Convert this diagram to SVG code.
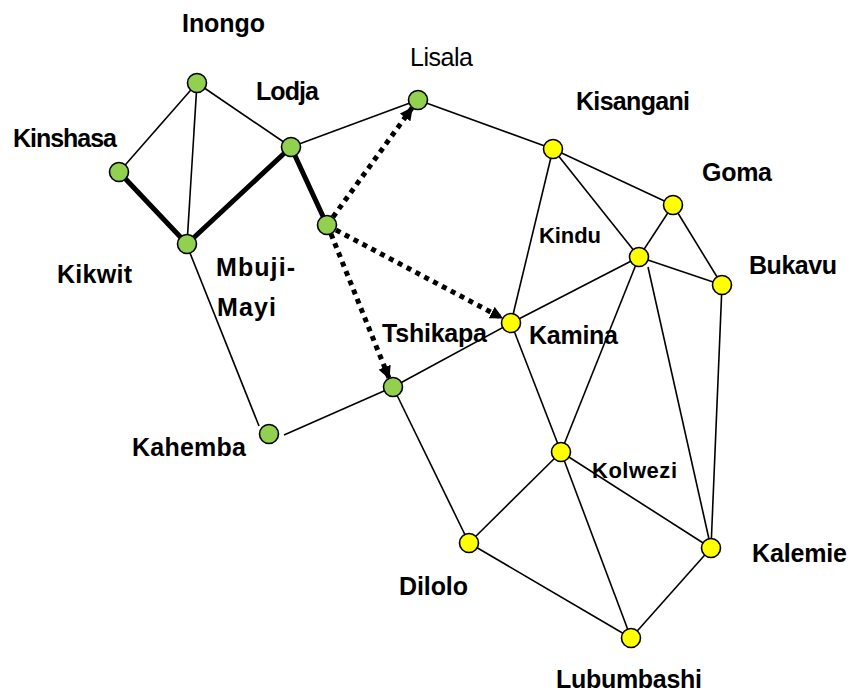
<svg xmlns="http://www.w3.org/2000/svg" width="850" height="696" viewBox="0 0 850 696">
<style>
.e{stroke:#000;stroke-width:1.6;fill:none}
.t{stroke:#000;stroke-width:5;fill:none;stroke-linecap:round}
.d{stroke:#000;stroke-width:5;fill:none;stroke-dasharray:5 5}
.g{fill:#92D050;stroke:#000;stroke-width:1.6}
.y{fill:#FFFF00;stroke:#000;stroke-width:1.6}
text{font-family:"Liberation Sans",Arial,sans-serif;font-weight:bold;font-size:25px;fill:#000}
.r{font-weight:normal}
.s{font-size:22px}
</style>
<defs>
<marker id="ah" viewBox="0 0 10 10" refX="9" refY="5" markerWidth="13" markerHeight="13" markerUnits="userSpaceOnUse" orient="auto">
<path d="M0,0 L10,5 L0,10 z" fill="#000"/>
</marker>
</defs>
<g id="connectors">
<line class="e" x1="119" y1="172" x2="197" y2="83"/>
<line class="e" x1="197" y1="83" x2="187" y2="244"/>
<line class="e" x1="197" y1="83" x2="291" y2="147"/>
<line class="e" x1="291" y1="147" x2="418" y2="100"/>
<line class="e" x1="418" y1="100" x2="553" y2="149"/>
<line class="e" x1="190" y1="253" x2="259" y2="426"/>
<line class="e" x1="284" y1="435" x2="393" y2="387"/>
<line class="e" x1="393" y1="387" x2="511" y2="323"/>
<line class="e" x1="393" y1="387" x2="469" y2="543"/>
<line class="e" x1="553" y1="149" x2="511" y2="323"/>
<line class="e" x1="553" y1="149" x2="673" y2="205"/>
<line class="e" x1="553" y1="149" x2="639" y2="257"/>
<line class="e" x1="673" y1="205" x2="639" y2="257"/>
<line class="e" x1="673" y1="205" x2="722" y2="285"/>
<line class="e" x1="639" y1="257" x2="722" y2="285"/>
<line class="e" x1="639" y1="257" x2="511" y2="323"/>
<line class="e" x1="639" y1="257" x2="561" y2="452"/>
<line class="e" x1="648" y1="267" x2="711" y2="548"/>
<line class="e" x1="722" y1="285" x2="711" y2="548"/>
<line class="e" x1="511" y1="323" x2="561" y2="452"/>
<line class="e" x1="561" y1="452" x2="469" y2="543"/>
<line class="e" x1="561" y1="452" x2="631" y2="638"/>
<line class="e" x1="561" y1="452" x2="711" y2="548"/>
<line class="e" x1="469" y1="543" x2="631" y2="638"/>
<line class="e" x1="711" y1="548" x2="631" y2="638"/>
<line class="t" x1="119" y1="172" x2="187" y2="244"/>
<line class="t" x1="187" y1="244" x2="291" y2="147"/>
<line class="t" x1="291" y1="147" x2="327" y2="225"/>
<line class="d" x1="333" y1="217" x2="412" y2="108" marker-end="url(#ah)"/>
<line class="d" x1="336" y1="230" x2="502" y2="318" marker-end="url(#ah)"/>
<line class="d" x1="331" y1="234" x2="389" y2="378" marker-end="url(#ah)"/>
</g>
<g id="Inongo"><circle class="g" cx="197" cy="83" r="9.5"/><text x="182" y="32" textLength="83">Inongo</text></g>
<g id="Kinshasa"><circle class="g" cx="119" cy="172" r="9.5"/><text x="13" y="147" textLength="104">Kinshasa</text></g>
<g id="Kikwit"><circle class="g" cx="187" cy="244" r="9.5"/><text x="57" y="283" textLength="75">Kikwit</text></g>
<g id="Lodja"><circle class="g" cx="291" cy="147" r="9.5"/><text x="256" y="100" textLength="63">Lodja</text></g>
<g id="MbujiMayi"><circle class="g" cx="327" cy="225" r="9.5"/><text x="216" y="276" textLength="79">Mbuji-</text><text x="217" y="316" textLength="59">Mayi</text></g>
<g id="Lisala"><circle class="g" cx="418" cy="100" r="9.5"/><text class="r" x="410" y="66" textLength="63">Lisala</text></g>
<g id="Kahemba"><circle class="g" cx="269" cy="434" r="9.5"/><text x="132" y="456" textLength="114">Kahemba</text></g>
<g id="Tshikapa"><circle class="g" cx="393" cy="387" r="9.5"/><text x="382" y="342" textLength="105">Tshikapa</text></g>
<g id="Kisangani"><circle class="y" cx="553" cy="149" r="9.5"/><text x="576" y="110" textLength="114">Kisangani</text></g>
<g id="Goma"><circle class="y" cx="673" cy="205" r="9.5"/><text x="702" y="181" textLength="70">Goma</text></g>
<g id="Kindu"><circle class="y" cx="639" cy="257" r="9.5"/><text class="s" x="539" y="243" textLength="62">Kindu</text></g>
<g id="Bukavu"><circle class="y" cx="722" cy="285" r="9.5"/><text x="749" y="274" textLength="88">Bukavu</text></g>
<g id="Kamina"><circle class="y" cx="511" cy="323" r="9.5"/><text x="529" y="344" textLength="89">Kamina</text></g>
<g id="Kolwezi"><circle class="y" cx="561" cy="452" r="9.5"/><text class="s" x="592" y="478" textLength="85">Kolwezi</text></g>
<g id="Dilolo"><circle class="y" cx="469" cy="543" r="9.5"/><text x="399" y="595" textLength="69">Dilolo</text></g>
<g id="Kalemie"><circle class="y" cx="711" cy="548" r="9.5"/><text x="752" y="562" textLength="95">Kalemie</text></g>
<g id="Lubumbashi"><circle class="y" cx="631" cy="638" r="9.5"/><text x="556" y="688" textLength="146">Lubumbashi</text></g>
</svg>
